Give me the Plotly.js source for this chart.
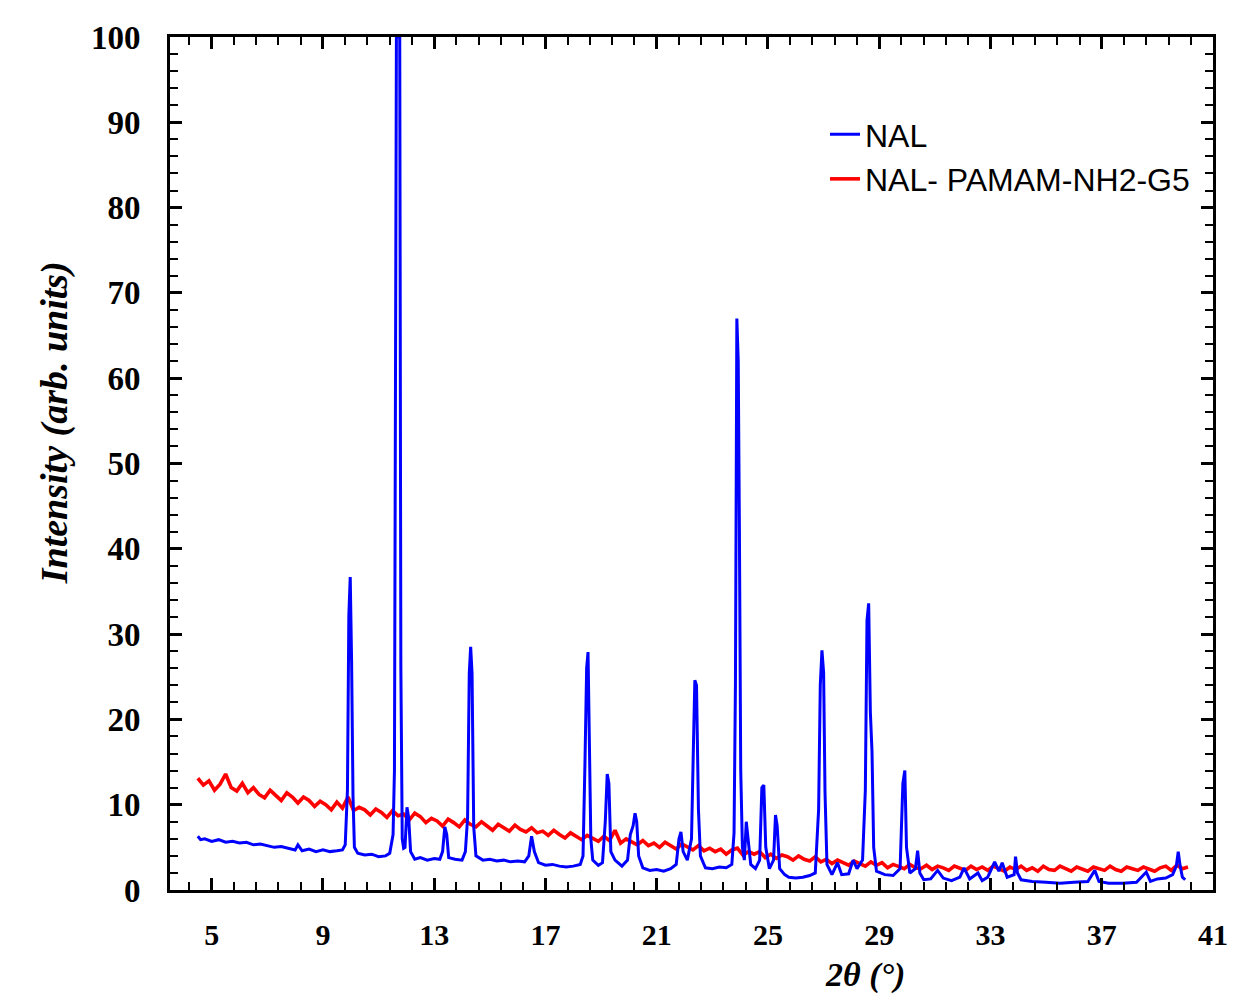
<!DOCTYPE html>
<html>
<head>
<meta charset="utf-8">
<script src="https://cdn.plot.ly/plotly-3.0.1.min.js"></script>
<style>html,body{margin:0;padding:0;background:#fff;}#chart{width:1235px;height:997px;}</style>
</head>
<body>
<div id="chart"></div>
<script>
// NAL (blue) diffraction pattern, 2theta (deg) vs intensity
const nalX = [
  4.5,4.6,4.75,5.0,5.25,5.5,5.75,6.0,6.25,6.5,
  6.75,7.0,7.25,7.5,7.75,8.0,8.1,8.25,8.5,8.75,
  9.0,9.25,9.5,9.7,9.8,9.88,9.93,9.98,10.03,10.08,
  10.13,10.25,10.5,10.75,11.0,11.25,11.4,11.52,11.57,11.61,
  11.64,11.76,11.80,11.85,11.9,11.95,12.02,12.08,12.15,12.3,
  12.5,12.75,13.0,13.2,13.3,13.38,13.45,13.52,13.75,14.0,
  14.12,14.2,14.26,14.31,14.36,14.42,14.5,14.75,15.0,15.25,
  15.5,15.75,16.0,16.25,16.4,16.5,16.6,16.75,17.0,17.25,
  17.5,17.75,18.0,18.25,18.35,18.42,18.48,18.53,18.58,18.63,
  18.7,18.9,19.05,19.15,19.22,19.28,19.35,19.5,19.75,19.95,
  20.05,20.15,20.22,20.28,20.35,20.5,20.75,21.0,21.25,21.5,
  21.7,21.8,21.87,21.95,22.1,22.25,22.32,22.37,22.43,22.5,
  22.57,22.75,23.0,23.25,23.5,23.7,23.78,23.83,23.88,23.93,
  23.97,24.02,24.08,24.15,24.22,24.28,24.38,24.55,24.7,24.78,
  24.85,24.92,25.05,25.2,25.27,25.33,25.42,25.6,25.75,26.0,
  26.25,26.5,26.7,26.82,26.88,26.94,27.0,27.05,27.12,27.3,
  27.5,27.65,27.9,28.06,28.2,28.4,28.5,28.56,28.62,28.68,
  28.74,28.8,28.9,29.2,29.5,29.75,29.85,29.92,29.98,30.1,
  30.3,30.38,30.46,30.6,30.85,31.1,31.3,31.6,31.9,32.05,
  32.25,32.55,32.7,32.9,33.15,33.3,33.42,33.6,33.85,33.9,
  33.97,34.1,34.5,35.0,35.5,36.0,36.5,36.75,36.9,37.25,
  37.75,38.25,38.6,38.75,39.0,39.3,39.55,39.68,39.75,39.82,
  39.9,40.0
];
const nalY = [
  6.3,5.9,6.0,5.7,5.9,5.6,5.7,5.5,5.6,5.3,
  5.4,5.2,5.0,5.1,4.9,4.7,5.3,4.6,4.8,4.5,
  4.7,4.5,4.6,4.7,5.3,11.7,32.2,36.7,26.6,11.0,
  5.0,4.3,4.1,4.2,3.9,4.0,4.3,6.5,14.0,58.6,
  100,100,26.1,6.0,4.9,5.0,9.7,8.5,4.5,3.6,
  3.8,3.5,3.7,3.6,4.5,7.4,6.5,3.8,3.6,3.5,
  4.5,8.5,25.4,28.5,25.4,7.4,4.0,3.5,3.6,3.4,
  3.5,3.3,3.4,3.3,4.0,6.3,4.5,3.2,2.9,3.0,
  2.8,2.7,2.8,3.0,4.0,14.9,26.0,27.9,18.4,6.0,
  3.5,2.9,3.2,8.0,13.6,12.5,4.5,3.5,2.8,3.5,
  6.5,7.5,9.0,8.0,4.0,2.6,2.3,2.4,2.2,2.5,
  3.0,6.0,6.8,4.5,3.5,6.0,17.0,24.6,24.0,9.4,
  4.0,2.6,2.5,2.7,2.6,3.0,6.7,24.3,67.0,62.0,
  43.4,14.0,5.0,3.5,8.0,6.0,3.0,2.5,3.5,12.0,
  12.3,5.0,2.5,3.5,8.8,7.5,2.5,1.8,1.5,1.4,
  1.5,1.7,2.0,9.4,24.0,28.1,25.5,11.5,3.0,1.8,
  3.2,1.8,1.9,3.5,2.5,3.5,11.7,31.6,33.6,20.9,
  16.2,5.0,2.2,1.8,1.7,2.5,12.5,14.0,5.0,2.0,
  2.5,4.6,2.0,1.2,1.3,2.3,1.4,1.1,1.5,2.6,
  1.3,2.0,1.1,1.5,3.3,2.2,3.2,1.5,1.8,3.9,
  2.0,1.2,1.0,0.9,0.8,0.9,1.0,2.3,1.0,0.8,
  0.8,0.9,2.1,1.0,1.3,1.4,1.8,2.8,4.5,2.8,
  1.5,1.2
];

// NAL- PAMAM-NH2-G5 (red) pattern
const pamamX = [
  4.5,4.7,4.9,5.1,5.3,5.5,5.7,5.9,6.1,6.3,
  6.5,6.7,6.9,7.1,7.3,7.5,7.7,7.9,8.1,8.3,
  8.5,8.7,8.9,9.1,9.3,9.5,9.7,9.9,10.1,10.3,
  10.5,10.7,10.9,11.1,11.3,11.5,11.7,11.9,12.1,12.3,
  12.5,12.7,12.9,13.1,13.3,13.5,13.7,13.9,14.1,14.3,
  14.5,14.7,14.9,15.1,15.3,15.5,15.7,15.9,16.1,16.3,
  16.5,16.7,16.9,17.1,17.3,17.5,17.7,17.9,18.1,18.3,
  18.5,18.7,18.9,19.1,19.3,19.5,19.7,19.9,20.1,20.3,
  20.5,20.7,20.9,21.1,21.3,21.5,21.7,21.9,22.1,22.3,
  22.5,22.7,22.9,23.1,23.3,23.5,23.7,23.9,24.1,24.3,
  24.5,24.7,24.9,25.1,25.3,25.5,25.7,25.9,26.1,26.3,
  26.5,26.7,26.9,27.1,27.3,27.5,27.7,27.9,28.1,28.3,
  28.5,28.7,28.9,29.1,29.3,29.5,29.7,29.9,30.1,30.3,
  30.5,30.7,30.9,31.1,31.3,31.5,31.7,31.9,32.1,32.3,
  32.5,32.7,32.9,33.1,33.3,33.5,33.7,33.9,34.1,34.3,
  34.5,34.7,34.9,35.1,35.3,35.5,35.7,35.9,36.1,36.3,
  36.5,36.7,36.9,37.1,37.3,37.5,37.7,37.9,38.1,38.3,
  38.5,38.7,38.9,39.1,39.3,39.5,39.7,39.9,40.1
];
const pamamY = [
  13.1,12.3,12.8,11.7,12.4,13.6,12.0,11.6,12.5,11.4,
  12.0,11.2,10.8,11.7,11.1,10.5,11.4,10.9,10.2,10.9,
  10.5,9.8,10.4,10.0,9.4,10.3,9.6,10.9,9.3,9.7,
  9.4,8.8,9.5,9.1,8.5,9.3,8.7,8.9,8.2,9.0,
  8.6,7.9,8.4,8.1,7.5,8.3,7.9,7.4,8.2,7.7,
  7.4,8.0,7.5,7.0,7.7,7.3,6.9,7.6,7.1,6.8,
  7.3,6.7,6.9,6.4,7.0,6.5,6.1,6.7,6.3,5.9,
  6.4,6.1,5.7,6.3,5.8,7.0,5.5,6.0,5.7,5.3,
  5.8,5.2,5.5,5.0,5.6,5.2,4.8,5.4,5.0,4.7,
  5.2,4.6,4.9,4.5,4.8,4.2,4.7,4.9,4.1,4.5,
  4.2,4.5,3.8,4.2,3.7,4.1,3.9,3.5,4.0,3.6,
  3.4,3.9,3.3,3.6,3.1,3.5,3.2,2.9,3.4,3.1,
  2.8,3.3,2.9,3.2,2.6,3.0,2.8,2.5,3.0,2.6,
  2.5,2.9,2.4,2.8,2.6,2.3,2.8,2.5,2.3,2.8,
  2.4,2.7,2.3,2.8,2.5,2.2,2.7,2.4,2.8,2.3,
  2.6,2.2,2.8,2.4,2.3,2.8,2.5,2.2,2.7,2.4,
  2.2,2.7,2.5,2.3,2.8,2.4,2.2,2.7,2.5,2.3,
  2.7,2.4,2.2,2.6,2.8,2.3,2.9,2.5,2.7
];

const seriesNames = ['NAL', 'NAL- PAMAM-NH2-G5'];
const xTickVals = [5, 9, 13, 17, 21, 25, 29, 33, 37, 41];
const yTickVals = [0, 10, 20, 30, 40, 50, 60, 70, 80, 90, 100];

const serif = 'Liberation Serif, Times New Roman, serif';

const traces = [
  {
    x: pamamX, y: pamamY, name: seriesNames[1], type: 'scatter', mode: 'lines',
    line: {color: '#ff0000', width: 3.6}, legendrank: 2
  },
  {
    x: nalX, y: nalY, name: seriesNames[0], type: 'scatter', mode: 'lines',
    line: {color: '#0000ff', width: 3}, legendrank: 1
  }
];

const axisCommon = {
  showline: true, linecolor: '#000', linewidth: 3, mirror: 'allticks',
  ticks: 'inside', ticklen: 12, tickwidth: 3, tickcolor: '#000',
  showgrid: false, zeroline: false
};

const layout = {
  width: 1235, height: 997,
  margin: {l: 170, r: 22, t: 37, b: 107, pad: 0},
  paper_bgcolor: '#fff', plot_bgcolor: '#fff',
  showlegend: true,
  legend: {
    x: 0.628, y: 0.918, xanchor: 'left', yanchor: 'top',
    bgcolor: 'rgba(0,0,0,0)', borderwidth: 0,
    font: {family: 'Liberation Sans, Arial, sans-serif', size: 32, color: '#000'}
  },
  xaxis: Object.assign({}, axisCommon, {
    range: [3.5, 41], tickmode: 'array', tickvals: xTickVals,
    tickfont: {family: serif, size: 30, color: '#000', weight: 'bold'},
    ticklabelstandoff: 16,
    minor: {tick0: 5, dtick: 0.8, ticks: 'inside', ticklen: 8, tickwidth: 2, tickcolor: '#000', showgrid: false}
  }),
  yaxis: Object.assign({}, axisCommon, {
    range: [0, 100], tickmode: 'array', tickvals: yTickVals,
    tickfont: {family: serif, size: 33, color: '#000', weight: 'bold'},
    ticklabelstandoff: 20,
    minor: {tick0: 0, dtick: 2, ticks: 'inside', ticklen: 8, tickwidth: 2, tickcolor: '#000', showgrid: false}
  }),
  annotations: [
    {
      text: '<b><i>Intensity (arb. units)</i></b>', xref: 'paper', yref: 'paper',
      x: -0.110, y: 0.5475, xanchor: 'center', yanchor: 'middle', textangle: -90,
      showarrow: false, font: {family: serif, size: 38, color: '#000'}
    },
    {
      text: '<b><i>2θ (°)</i></b>', xref: 'paper', yref: 'paper',
      x: 0.666, y: -0.100, xanchor: 'center', yanchor: 'middle',
      showarrow: false, font: {family: serif, size: 34, color: '#000'}
    }
  ]
};

Plotly.newPlot('chart', traces, layout, {displayModeBar: false, staticPlot: true});
</script>
</body>
</html>
